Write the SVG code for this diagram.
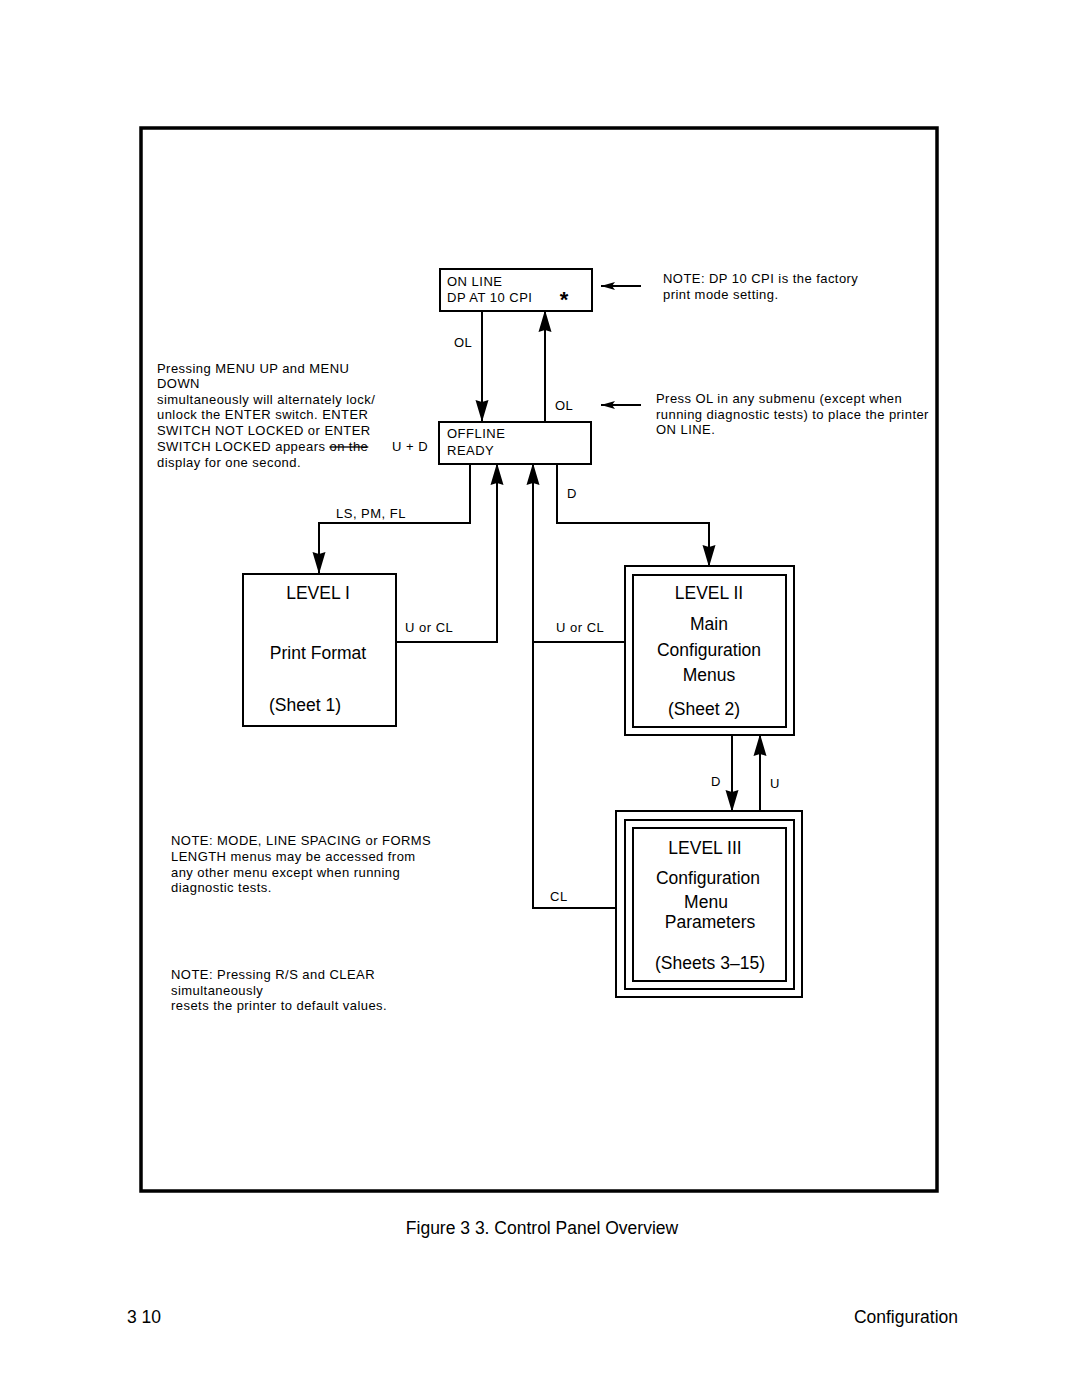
<svg xmlns="http://www.w3.org/2000/svg" width="1080" height="1397" viewBox="0 0 1080 1397">
<style>
text{font-family:"Liberation Sans",Arial,sans-serif;fill:#000}
.s{font-size:13px;letter-spacing:0.45px}
.m{font-size:13px;letter-spacing:0.5px}
.b{font-size:17.5px}
.c{text-anchor:middle}
.box{fill:#fff;stroke:#000;stroke-width:2}
.ln{fill:none;stroke:#000;stroke-width:2}
</style>
<defs>
<marker id="ah" markerUnits="userSpaceOnUse" markerWidth="22" markerHeight="14" viewBox="0 0 22 14" refX="21" refY="7" orient="auto">
<path d="M0,0.5 L22,7 L0,13.5 L2,7 Z" fill="#000"/>
</marker>
<marker id="sa" markerUnits="userSpaceOnUse" markerWidth="14" markerHeight="8" viewBox="0 0 14 8" refX="14" refY="4" orient="auto">
<path d="M0,0 L14,4 L0,8 L3,4 Z" fill="#000"/>
</marker>
</defs>
<rect width="1080" height="1397" fill="#fff"/>
<rect id="frame" x="141" y="128" width="796" height="1063" fill="none" stroke="#000" stroke-width="3.5"/>

<g id="connectors">
<path class="ln" d="M482,311 V421" marker-end="url(#ah)"/>
<path class="ln" d="M545,421 V311" marker-end="url(#ah)"/>
<path class="ln" d="M470,464 V523 H319 V573" marker-end="url(#ah)"/>
<path class="ln" d="M396,642 H497 V464" marker-end="url(#ah)"/>
<path class="ln" d="M616,908 H533 V464" marker-end="url(#ah)"/>
<path class="ln" d="M624,642 H533"/>
<path class="ln" d="M557,464 V523 H709 V566" marker-end="url(#ah)"/>
<path class="ln" d="M732,735 V811" marker-end="url(#ah)"/>
<path class="ln" d="M760,811 V735" marker-end="url(#ah)"/>
<path class="ln" d="M641,286 H601" marker-end="url(#sa)"/>
<path class="ln" d="M641,405 H601" marker-end="url(#sa)"/>
</g>

<g id="online">
<rect class="box" x="440" y="269" width="152" height="42"/>
<text class="m" x="447" y="286">ON LINE</text>
<text class="m" x="447" y="302">DP AT 10 CPI</text>
<text x="564" y="307" style="font-size:22px;font-weight:bold" class="c">*</text>
</g>
<g id="offline">
<rect class="box" x="439" y="422" width="152" height="42"/>
<text class="m" x="447" y="438">OFFLINE</text>
<text class="m" x="447" y="455">READY</text>
</g>

<g id="level1">
<rect class="box" x="243" y="574" width="153" height="152"/>
<text class="b c" x="318" y="599">LEVEL I</text>
<text class="b c" x="318" y="659">Print Format</text>
<text class="b c" x="305" y="711">(Sheet 1)</text>
</g>

<g id="level2">
<rect class="box" x="625" y="566" width="169" height="169"/>
<rect class="box" x="633" y="575" width="153" height="152"/>
<text class="b c" x="709" y="599">LEVEL II</text>
<text class="b c" x="709" y="630">Main</text>
<text class="b c" x="709" y="656">Configuration</text>
<text class="b c" x="709" y="681">Menus</text>
<text class="b c" x="704" y="715">(Sheet 2)</text>
</g>

<g id="level3">
<rect class="box" x="616" y="811" width="186" height="186"/>
<rect class="box" x="625" y="820" width="169" height="169"/>
<rect class="box" x="633" y="828" width="153" height="153"/>
<text class="b c" x="705" y="854">LEVEL III</text>
<text class="b c" x="708" y="884">Configuration</text>
<text class="b c" x="706" y="908">Menu</text>
<text class="b c" x="710" y="928">Parameters</text>
<text class="b c" x="710" y="969">(Sheets 3–15)</text>
</g>

<g id="labels">
<text class="m" x="454" y="347">OL</text>
<text class="m" x="555" y="410">OL</text>
<text class="m" x="392" y="451">U + D</text>
<text class="m" x="336" y="518">LS, PM, FL</text>
<text class="m" x="405" y="632">U or  CL</text>
<text class="m" x="556" y="632">U or  CL</text>
<text class="m" x="567" y="498">D</text>
<text class="m" x="550" y="901">CL</text>
<text class="m" x="711" y="786">D</text>
<text class="m" x="770" y="788">U</text>
</g>

<g id="notes">
<text class="s" x="663" y="283">NOTE: DP 10 CPI is the factory</text>
<text class="s" x="663" y="299">print mode setting.</text>
<text class="s" x="656" y="403">Press OL in any submenu (except when</text>
<text class="s" x="656" y="419">running diagnostic tests) to place the printer</text>
<text class="s" x="656" y="434">ON LINE.</text>
<text class="s" x="157" y="373">Pressing MENU UP and MENU</text>
<text class="s" x="157" y="388">DOWN</text>
<text class="s" x="157" y="404">simultaneously will alternately lock/</text>
<text class="s" x="157" y="419">unlock the ENTER switch. ENTER</text>
<text class="s" x="157" y="435">SWITCH NOT LOCKED or ENTER</text>
<text class="s" x="157" y="451">SWITCH LOCKED appears <tspan text-decoration="line-through">on the</tspan></text>
<text class="s" x="157" y="467">display for one second.</text>
<text class="s" x="171" y="845">NOTE: MODE, LINE SPACING or FORMS</text>
<text class="s" x="171" y="861">LENGTH menus may be accessed from</text>
<text class="s" x="171" y="877">any other menu except when running</text>
<text class="s" x="171" y="892">diagnostic tests.</text>
<text class="s" x="171" y="979">NOTE: Pressing R/S and CLEAR</text>
<text class="s" x="171" y="995">simultaneously</text>
<text class="s" x="171" y="1010">resets the printer to default values.</text>
</g>

<text class="c" x="542" y="1234" style="font-size:17.5px">Figure 3 3. Control Panel Overview</text>
<text x="127" y="1323" style="font-size:17.5px">3  10</text>
<text x="958" y="1323" style="font-size:17.5px;text-anchor:end">Configuration</text>
</svg>
